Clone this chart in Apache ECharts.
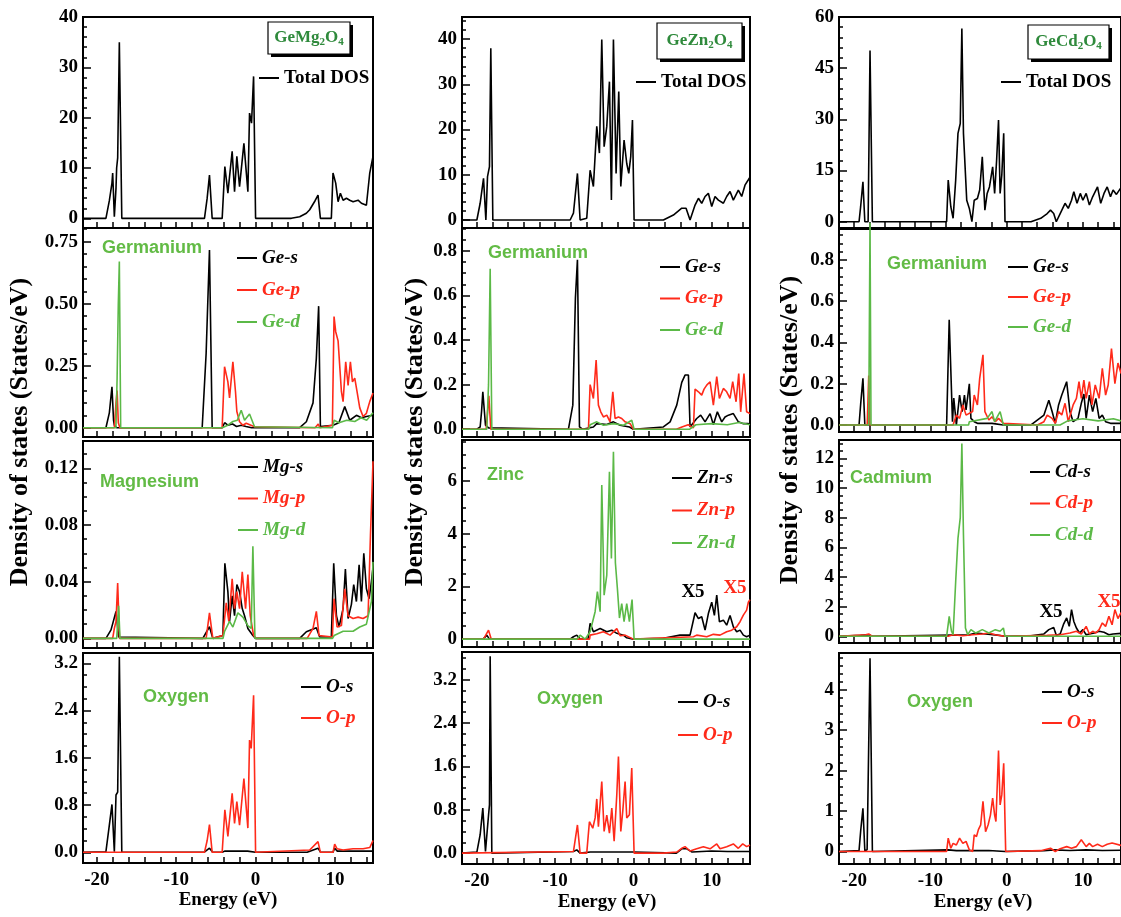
<!DOCTYPE html>
<html><head><meta charset="utf-8">
<script src="https://cdn.jsdelivr.net/npm/echarts@6/dist/echarts.min.js"></script>
<style>html,body{margin:0;padding:0;background:#fff}#c{width:1121px;height:917px}</style>
</head><body><div id="c"></div><script>
// ---------- tick values ----------
const energyTicks = [-20, -10, 0, 10];
const energyMinorTicks = [-20,-18,-16,-14,-12,-10,-8,-6,-4,-2,0,2,4,6,8,10,12,14];
const yTicksTotalMg = [0, 10, 20, 30, 40];
const yTicksGeMg = [0, 0.25, 0.5, 0.75];
const yTicksMg = [0, 0.04, 0.08, 0.12];
const yTicksOMg = [0, 0.8, 1.6, 2.4, 3.2];
const yTicksTotalZn = [0, 10, 20, 30, 40];
const yTicksGeZn = [0, 0.2, 0.4, 0.6, 0.8];
const yTicksZn = [0, 2, 4, 6];
const yTicksOZn = [0, 0.8, 1.6, 2.4, 3.2];
const yTicksTotalCd = [0, 15, 30, 45, 60];
const yTicksGeCd = [0, 0.2, 0.4, 0.6, 0.8];
const yTicksCd = [0, 2, 4, 6, 8, 10, 12];
const yTicksOCd = [0, 1, 2, 3, 4];

// ---------- GeMg2O4 data [energy eV, DOS] ----------
const mgTotal = [[-21.75,0],[-18.86,0],[-18.43,3.5],[-18.1,7],[-18.01,9],[-17.8,0.3],[-17.59,6],[-17.51,10],[-17.38,12],[-17.17,35],[-16.86,0],[-6.44,0],[-6.1,4],[-5.81,8.6],[-5.47,0],[-4.21,0],[-3.87,10.3],[-3.49,5],[-3.3,8],[-2.95,13.3],[-2.65,5.3],[-2.36,12.3],[-2.02,6.3],[-1.47,14.9],[-0.97,5.3],[-0.76,20.9],[-0.51,18.9],[-0.25,28.2],[0,0],[4.5,0],[5.56,0.3],[6.4,1],[6.82,1.7],[7.5,3.5],[7.87,4.6],[8.17,0],[9.55,0],[9.76,9],[10.1,7],[10.4,3.3],[10.69,5],[11.03,3.6],[11.45,4],[11.87,3.6],[12.29,3.3],[12.92,3.6],[13.34,3],[13.97,2.6],[14.39,9],[14.8,12.3]];
const mgGeS = [[-21.75,0],[-18.86,0],[-18.43,0.06],[-18.1,0.165],[-17.9,0.03],[-17.8,0.01],[-17.5,0],[-6.73,0],[-6.23,0.3],[-5.81,0.716],[-5.47,0],[-4.2,0],[-3.9,0.02],[-3.5,0.01],[-2.9,0.015],[-2.4,0.005],[-1.8,0.01],[-1.2,0.005],[-0.5,0],[5.56,0],[6.4,0.024],[7.24,0.1],[7.66,0.28],[7.95,0.49],[8.17,0.005],[9.76,0.01],[10.5,0.02],[11.24,0.085],[11.87,0.03],[12.71,0.05],[13.34,0.04],[13.97,0.045],[14.8,0.05]];
const mgGeP = [[-21.75,0],[-17.8,0],[-17.59,0.1],[-17.45,0.15],[-17.3,0.02],[-17.1,0],[-4.21,0],[-3.91,0.246],[-3.49,0.185],[-3.28,0.12],[-2.86,0.266],[-2.53,0.145],[-2.36,0.065],[-2.02,0.024],[-1.6,0.01],[-1.18,0.018],[-0.13,0.004],[0,0],[7.5,0],[7.9,0.015],[8.1,0],[9.68,0.01],[9.89,0.448],[10.1,0.387],[10.4,0.35],[10.82,0.145],[11.03,0.105],[11.36,0.266],[11.66,0.17],[11.95,0.266],[12.21,0.185],[12.5,0.2],[12.79,0.145],[13.13,0.08],[13.55,0.045],[13.97,0.058],[14.39,0.105],[14.8,0.14]];
const mgGeD = [[-21.75,0],[-17.6,0],[-17.45,0.2],[-17.3,0.5],[-17.17,0.67],[-17.0,0],[-4.2,0],[-3.5,0.01],[-2.86,0.025],[-2.3,0.03],[-1.81,0.07],[-1.39,0.03],[-0.76,0.055],[-0.55,0.058],[-0.13,0.004],[0,0],[9.7,0],[9.9,0.03],[10.5,0.02],[11.5,0.03],[12.5,0.025],[13.3,0.04],[14,0.03],[14.8,0.06]];
const mgS = [[-21.75,0],[-18.86,0],[-18.22,0.006],[-17.59,0.019],[-17.26,0.001],[-17.1,0],[-6.65,0],[-5.81,0.0082],[-5.39,0],[-4.12,0.002],[-3.87,0.053],[-3.49,0.033],[-3.28,0.012],[-2.95,0.03],[-2.65,0.016],[-2.36,0.038],[-2.02,0.033],[-1.68,0.021],[-1.39,0.016],[-0.97,0.007],[-0.34,0.002],[0,0],[5.56,0],[6.4,0.0047],[7.66,0.0075],[8.08,0.001],[9.55,0.001],[9.85,0.053],[10.19,0.016],[10.52,0.008],[11.03,0.021],[11.32,0.049],[11.66,0.014],[12.08,0.024],[12.37,0.038],[12.71,0.026],[13.05,0.052],[13.34,0.026],[13.64,0.06],[13.97,0.035],[14.31,0.028],[14.6,0.04],[14.8,0.05]];
const mgP = [[-21.75,0],[-18.01,0],[-17.8,0.007],[-17.59,0.012],[-17.38,0.039],[-17.15,0],[-6.23,0],[-5.81,0.018],[-5.39,0],[-4.12,0.002],[-3.7,0.025],[-3.37,0.012],[-2.95,0.042],[-2.65,0.021],[-2.36,0.033],[-2.02,0.021],[-1.68,0.047],[-1.26,0.021],[-0.97,0.045],[-0.67,0.016],[-0.25,0.002],[0.08,0],[6.5,0],[7.24,0.007],[7.66,0.019],[8.0,0.002],[9.68,0.001],[9.89,0.028],[10.27,0.008],[10.82,0.009],[11.24,0.035],[11.66,0.016],[12.29,0.014],[12.92,0.015],[13.55,0.014],[14.18,0.016],[14.48,0.073],[14.8,0.125]];
const mgD = [[-21.75,0],[-17.5,0],[-17.26,0.023],[-17.09,0],[-4.1,0],[-3.91,0.005],[-3.28,0.012],[-2.86,0.008],[-2.23,0.018],[-1.6,0.015],[-0.97,0.009],[-0.55,0.007],[-0.34,0.065],[-0.08,0],[9.7,0],[9.9,0.002],[11.03,0.005],[12.29,0.005],[13.13,0.008],[13.97,0.01],[14.6,0.026],[14.8,0.054]];
const mgOS = [[-21.75,0],[-18.86,0.01],[-18.43,0.46],[-18.1,0.81],[-17.8,0.01],[-17.59,0.97],[-17.38,1.02],[-17.17,3.31],[-16.86,0],[-6.5,0],[-5.81,0.07],[-5.4,0],[-4.2,0],[-3.9,0.02],[-1,0.02],[0,0],[6.5,0],[7.87,0.07],[8.2,0],[9.76,0],[9.97,0.07],[10.3,0.02],[14.8,0.02]];
const mgOP = [[-21.75,0],[-6.44,0],[-6.1,0.2],[-5.81,0.47],[-5.47,0],[-4.21,0],[-3.87,0.72],[-3.49,0.27],[-2.95,1.0],[-2.65,0.49],[-2.36,0.86],[-2.02,0.46],[-1.47,1.25],[-0.97,0.41],[-0.76,1.9],[-0.55,1.76],[-0.25,2.66],[0,0],[6.82,0.04],[7.87,0.18],[8.17,0],[9.76,0],[9.97,0.14],[10.27,0.06],[11.03,0.04],[12.29,0.06],[13.55,0.06],[14.39,0.08],[14.8,0.2]];

// ---------- GeZn2O4 data ----------
const znTotal = [[-21.9,0],[-20.0,0],[-19.58,3.7],[-19.15,9.2],[-18.85,0],[-18.64,9.6],[-18.39,11.8],[-18.22,38],[-17.96,0],[-8.08,0],[-7.66,1.5],[-7.15,10.3],[-6.81,0],[-5.96,0.4],[-5.53,11],[-5.11,7.4],[-4.68,20.7],[-4.34,14.8],[-4.04,39.9],[-3.74,16.2],[-3.4,20.7],[-3.06,30.6],[-2.81,4.4],[-2.55,39.9],[-2.21,10.3],[-1.87,28.4],[-1.61,7.4],[-1.19,17.7],[-0.85,12.5],[-0.59,10.3],[-0.34,14],[-0.12,22.1],[0.09,0],[3.83,0],[5.11,1.1],[6.18,2.6],[6.73,2.6],[7.24,0],[7.88,3.3],[8.31,4.8],[8.73,3.7],[9.16,5.2],[9.58,5.9],[10.01,3],[10.43,5.2],[10.86,4.4],[11.5,3.7],[11.92,5.2],[12.35,6.3],[12.77,4.4],[13.41,6.6],[13.84,5.2],[14.26,7.7],[14.69,8.9],[14.9,9.5]];
const znGeS = [[-21.9,0],[-20.0,0],[-19.58,0.01],[-19.4,0.08],[-19.24,0.168],[-18.9,0.018],[-18.51,0.006],[-18.3,0],[-8.3,0],[-7.74,0.108],[-7.41,0.587],[-7.15,0.76],[-6.89,0.01],[-6.5,0],[-5.11,0.01],[-4.68,0.025],[-3.4,0.021],[-2.55,0.033],[-1.7,0.018],[-0.5,0.01],[0,0],[3.83,0.01],[4.69,0.033],[5.54,0.108],[6.18,0.21],[6.6,0.243],[7.03,0.243],[7.24,0.01],[8.09,0.048],[8.6,0.063],[9.16,0.033],[9.8,0.07],[10.22,0.02],[10.73,0.078],[11.29,0.033],[11.71,0.055],[12.14,0.063],[12.77,0.07],[13.41,0.033],[14.05,0.025],[14.69,0.025],[14.9,0.02]];
const znGeP = [[-21.9,0],[-18.81,0],[-18.47,0.15],[-18.22,0],[-5.74,0],[-5.53,0.2],[-5.11,0.138],[-4.76,0.31],[-4.47,0.108],[-4.17,0.078],[-3.83,0.055],[-3.4,0.063],[-2.98,0.033],[-2.63,0.168],[-2.34,0.048],[-1.91,0.055],[-1.49,0.048],[-1.06,0.033],[-0.42,0.025],[0,0],[5.5,0],[6.2,0.01],[7.0,0.02],[7.67,0.006],[7.88,0.18],[8.31,0.168],[8.73,0.153],[9.03,0.18],[9.37,0.198],[9.8,0.213],[10.22,0.108],[10.65,0.236],[10.99,0.138],[11.5,0.183],[11.92,0.168],[12.35,0.138],[12.69,0.213],[13.12,0.123],[13.46,0.25],[13.71,0.078],[14.13,0.25],[14.47,0.078],[14.9,0.07]];
const znGeD = [[-21.9,0],[-18.73,0],[-18.51,0.2],[-18.3,0.72],[-18.09,0],[-5.7,0],[-5.53,0.02],[-4.68,0.033],[-3.83,0.018],[-2.55,0.025],[-1.27,0.018],[-0.21,0.04],[0.09,0],[7.2,0],[8,0.02],[10,0.025],[12,0.02],[13.5,0.03],[14.9,0.02]];
const znS = [[-21.9,0],[-19.2,0],[-18.73,0.15],[-18.4,0],[-8.08,0],[-7.66,0.09],[-7.23,0.15],[-6.8,0],[-5.8,0],[-5.53,0.6],[-5.11,0.28],[-4.25,0.4],[-3.4,0.28],[-2.76,0.34],[-2.12,0.22],[-1.27,0.15],[-0.85,0.05],[0,0],[3.83,0.03],[5.96,0.15],[7.24,0.15],[7.88,1.0],[8.31,0.78],[8.73,0.85],[9.16,0.34],[9.58,0.97],[10.01,1.4],[10.35,0.9],[10.65,1.67],[10.99,0.66],[11.5,0.72],[11.92,0.53],[12.35,0.9],[12.77,0.47],[13.2,0.28],[13.63,0.34],[14.05,0.15],[14.47,0.09],[14.9,0.15]];
const znP = [[-21.9,0],[-19.15,0],[-18.51,0.34],[-18.17,0],[-5.6,0],[-5.53,0.15],[-4.68,0.2],[-3.83,0.28],[-2.98,0.15],[-2.12,0.4],[-1.7,0.13],[-1.06,0.15],[0,0],[7.67,0.09],[8.09,0.15],[9.37,0.09],[10.22,0.18],[11.07,0.15],[11.92,0.28],[12.56,0.34],[13.2,0.47],[13.63,0.66],[14.05,0.91],[14.47,1.1],[14.69,1.4],[14.9,1.5]];
const znD = [[-21.9,0],[-7.23,0],[-6.81,0.15],[-6.17,0],[-5.53,0.28],[-4.89,1.04],[-4.6,1.8],[-4.25,1.04],[-4.04,5.85],[-3.74,1.67],[-3.4,2.43],[-3.06,6.35],[-2.81,3.06],[-2.55,7.11],[-2.3,2.9],[-2.04,1.9],[-1.78,0.8],[-1.49,1.35],[-1.19,0.66],[-0.85,1.35],[-0.51,0.66],[-0.17,1.5],[0.09,0],[14.9,0]];
const znOS = [[-21.9,0],[-20.0,0.02],[-19.58,0.34],[-19.24,0.83],[-18.9,0.03],[-18.51,0.7],[-18.39,0.89],[-18.3,3.63],[-18.09,0],[-7.66,0.03],[-7.23,0.06],[-6.81,0],[-5.5,0.02],[-0.1,0.02],[0,0],[5.5,0],[6.18,0.08],[6.82,0.08],[7.5,0.02],[10,0.04],[12,0.03],[14.9,0.03]];
const znOP = [[-21.9,0],[-7.66,0.03],[-7.15,0.52],[-6.81,0],[-5.96,0],[-5.62,0.58],[-5.19,0.46],[-4.89,0.65],[-4.68,1.0],[-4.47,0.49],[-4.04,1.32],[-3.74,0.4],[-3.4,0.7],[-3.06,0.37],[-2.76,0.83],[-2.46,0.22],[-2.12,1.08],[-1.91,1.78],[-1.61,0.4],[-1.36,0.77],[-1.06,1.32],[-0.85,0.65],[-0.51,0.71],[-0.21,1.57],[0.09,0],[3.8,0],[5.54,0.02],[6.18,0.09],[6.6,0.12],[7.24,0.04],[8.09,0.08],[8.94,0.12],[9.8,0.08],[10.65,0.17],[11.07,0.08],[11.92,0.12],[12.77,0.17],[13.41,0.09],[13.97,0.17],[14.47,0.12],[14.9,0.15]];

// ---------- GeCd2O4 data ----------
const cdTotal = [[-22,0],[-19.37,0],[-19.16,4.4],[-18.86,11.7],[-18.61,0],[-18.18,0],[-17.93,50.2],[-17.62,0],[-7.88,0],[-7.67,12.2],[-7.33,4.4],[-7.03,1],[-6.69,12.2],[-6.39,25.9],[-6.09,28.8],[-5.88,56.6],[-5.67,25.9],[-5.24,6.3],[-4.9,3.9],[-4.56,0],[-4.26,6.3],[-3.84,6.8],[-3.54,9.3],[-3.2,19],[-2.86,3.4],[-2.56,8.3],[-2.26,10.2],[-1.84,16.1],[-1.58,8.3],[-1.32,18],[-1.07,29.8],[-0.86,8.3],[-0.64,13.7],[-0.39,25.9],[-0.22,0],[3.19,0],[4.47,1],[5.32,2.4],[5.75,3.4],[6.17,2.4],[6.51,0],[7.02,2.4],[7.66,5.4],[8.08,3.9],[8.51,6.3],[8.81,8.8],[9.23,5.4],[9.66,8.3],[10.0,6.3],[10.43,8.3],[10.85,4.9],[11.28,7.3],[11.92,10.2],[12.34,5.4],[12.77,8.3],[13.19,10.2],[13.62,7.3],[13.96,9.3],[14.4,8],[15,10]];
const cdGeS = [[-22,0],[-19.37,0],[-19.16,0.1],[-18.86,0.226],[-18.61,0],[-7.88,0],[-7.54,0.51],[-7.11,0.016],[-6.94,0.13],[-6.6,0],[-6.18,0.145],[-5.84,0.065],[-5.54,0.145],[-5.33,0.073],[-4.9,0.2],[-4.69,0.032],[-4.26,0.016],[-3.84,0.008],[-2.77,0.008],[-1.92,0.008],[-0.43,0],[3.19,0],[4.89,0.048],[5.53,0.12],[5.96,0.065],[6.38,0.008],[6.81,0.097],[7.23,0.145],[7.87,0.21],[8.3,0.065],[8.72,0.016],[9.36,0.032],[9.79,0.105],[10.13,0.15],[10.43,0.032],[10.85,0.145],[11.28,0.065],[11.7,0.129],[12.13,0.032],[12.55,0.048],[12.98,0.016],[13.62,0.008],[15,0.008]];
const cdGeP = [[-22,0],[-18.3,0],[-18.1,0.24],[-17.95,0],[-7.03,0],[-6.6,0.048],[-6.18,0.032],[-5.75,0.097],[-5.33,0.048],[-4.47,0.065],[-4.26,0.145],[-3.84,0.097],[-3.54,0.226],[-3.11,0.34],[-2.86,0.065],[-2.34,0.024],[-1.92,0.04],[-1.49,0.016],[-1.07,0.032],[-0.43,0.008],[-0.22,0],[4.04,0],[4.89,0.016],[5.32,0.048],[5.96,0.032],[6.38,0.008],[6.81,0.065],[7.23,0.048],[7.66,0.105],[8.08,0.016],[8.72,0.097],[9.15,0.129],[9.49,0.21],[9.79,0.129],[10.13,0.218],[10.43,0.129],[10.85,0.21],[11.19,0.097],[11.62,0.194],[12.13,0.129],[12.55,0.275],[12.98,0.145],[13.32,0.194],[13.75,0.37],[14.2,0.2],[14.6,0.3],[15,0.25]];
const cdGeD = [[-22,0],[-18.1,0],[-17.93,0.98],[-17.8,0],[-5,0],[-4.9,0.016],[-2.56,0.032],[-1.92,0.065],[-1.58,0.016],[-0.86,0.065],[-0.43,0],[7,0],[8,0.02],[10,0.03],[12,0.02],[14,0.03],[15,0.02]];
const cdS = [[-22,0],[-19.16,0.07],[-18.1,0.1],[-17.62,0],[-4.9,0.1],[-4.05,0.22],[-2.77,0.16],[-1.49,0.1],[-0.22,0],[3.19,0.04],[4.89,0.16],[5.53,0.45],[6.17,0.6],[6.51,0.07],[7.02,0.16],[7.45,0.8],[7.87,1.24],[8.21,0.67],[8.51,1.8],[8.81,1.0],[9.15,0.56],[9.57,0.22],[10.0,0.45],[10.43,0.11],[10.85,0.16],[11.49,0.22],[12.13,0.34],[12.77,0.27],[13.41,0.11],[13.96,0.16],[15,0.2]];
const cdP = [[-22,0],[-18.5,0.11],[-18.1,0.16],[-17.62,0],[-7.67,0],[-7.03,0.11],[-5.75,0.04],[-4.47,0.11],[-3.2,0.16],[-2.34,0.22],[-1.49,0.11],[-0.22,0],[5.32,0.07],[7.02,0.11],[8.3,0.22],[9.15,0.34],[9.79,0.16],[10.43,0.67],[10.85,0.16],[11.28,0.34],[11.7,0.22],[12.13,0.45],[12.55,0.9],[12.98,0.67],[13.41,1.35],[13.83,0.78],[14.2,1.8],[14.6,1.2],[15,1.6]];
const cdD = [[-22,0],[-7.88,0],[-7.54,1.35],[-7.24,0.34],[-7.03,0.11],[-6.69,3.7],[-6.39,6.6],[-6.09,8.0],[-5.88,13.0],[-5.67,6.85],[-5.41,0.56],[-5.11,0.11],[-4.69,0.45],[-4.05,0.22],[-3.2,0.45],[-2.34,0.22],[-1.49,0.45],[-0.86,0.34],[-0.43,0.56],[-0.22,0],[15,0]];
const cdOS = [[-22,0],[-19.37,0.02],[-19.16,0.5],[-18.86,1.07],[-18.61,0.02],[-18.31,0.04],[-17.93,4.78],[-17.62,0],[-7.67,0.04],[-6.6,0.02],[-4.47,0.02],[-2.34,0.025],[-0.22,0],[4.89,0.02],[6.17,0.04],[8.3,0.025],[10.43,0.04],[12.55,0.025],[15,0.03]];
const cdOP = [[-22,0],[-7.88,0],[-7.67,0.33],[-7.33,0.08],[-7.03,0.2],[-6.6,0.16],[-6.18,0.33],[-5.75,0.2],[-5.33,0.25],[-4.9,0.04],[-4.47,0],[-4.26,0.41],[-3.96,0.37],[-3.71,0.54],[-3.41,0.66],[-3.11,1.24],[-2.77,0.49],[-2.43,0.66],[-2.13,0.9],[-1.84,1.32],[-1.58,0.9],[-1.41,0.74],[-1.07,2.5],[-0.86,1.15],[-0.64,1.4],[-0.39,2.18],[-0.13,0],[4.47,0.02],[5.75,0.08],[6.38,0],[7.02,0.07],[7.87,0.12],[8.51,0.08],[9.15,0.12],[9.79,0.29],[10.43,0.12],[10.85,0.2],[11.28,0.12],[11.92,0.18],[12.55,0.12],[13.19,0.18],[13.83,0.21],[15,0.15]];

// ---------- styling / layout ----------
const SERIF = "'Liberation Serif','Times New Roman',serif";
const BLACK = '#000000', RED = '#ff2a1a', GREEN = '#5bb947', LABELGREEN = '#62bb45', BOXGREEN = '#2f8a3c';
function rng(a, b, s) { const o = []; for (let v = a; v <= b + 1e-9; v += s) o.push(+v.toFixed(4)); return o; }

const C1 = {l: 83, w: 290, xmin: -21.75, xmax: 14.8};
const C2 = {l: 462, w: 288, xmin: -21.9, xmax: 14.9};
const C3 = {l: 839, w: 290, xmin: -22, xmax: 15};

const panels = [
  // column 1 : GeMg2O4
  {c: C1, t: 17, h: 211, ymin: -1.92, ymax: 40, major: yTicksTotalMg, minor: rng(0, 40, 2), dec: 0, xlab: false,
   series: [['Total DOS', mgTotal, BLACK]], leg: {x: 259, y: 78, pitch: 32, italic: false}},
  {c: C1, t: 228, h: 209, ymin: -0.0375, ymax: 0.805, major: yTicksGeMg, minor: rng(0, 0.8, 0.05), dec: 2, xlab: false,
   series: [['Ge-s', mgGeS, BLACK], ['Ge-p', mgGeP, RED], ['Ge-d', mgGeD, GREEN]], leg: {x: 237, y: 258, pitch: 32, italic: true}},
  {c: C1, t: 441, h: 207, ymin: -0.0068, ymax: 0.1393, major: yTicksMg, minor: rng(0, 0.13, 0.01), dec: 2, xlab: false,
   series: [['Mg-s', mgS, BLACK], ['Mg-p', mgP, RED], ['Mg-d', mgD, GREEN]], leg: {x: 238, y: 467, pitch: 31.5, italic: true}},
  {c: C1, t: 653, h: 210, ymin: -0.181, ymax: 3.374, major: yTicksOMg, minor: rng(0, 3.2, 0.2), dec: 1, xlab: true,
   series: [['O-s', mgOS, BLACK], ['O-p', mgOP, RED]], leg: {x: 301, y: 687, pitch: 31, italic: true}},
  // column 2 : GeZn2O4
  {c: C2, t: 17, h: 211, ymin: -1.77, ymax: 44.9, major: yTicksTotalZn, minor: rng(0, 44, 2), dec: 0, xlab: false,
   series: [['Total DOS', znTotal, BLACK]], leg: {x: 636, y: 82, pitch: 32, italic: false}},
  {c: C2, t: 228, h: 209, ymin: -0.035, ymax: 0.903, major: yTicksGeZn, minor: rng(0, 0.9, 0.05), dec: 1, xlab: false,
   series: [['Ge-s', znGeS, BLACK], ['Ge-p', znGeP, RED], ['Ge-d', znGeD, GREEN]], leg: {x: 660, y: 267, pitch: 31.5, italic: true}},
  {c: C2, t: 440, h: 207, ymin: -0.3, ymax: 7.56, major: yTicksZn, minor: rng(0, 7.5, 0.5), dec: 0, xlab: false,
   series: [['Zn-s', znS, BLACK], ['Zn-p', znP, RED], ['Zn-d', znD, GREEN]], leg: {x: 672, y: 478, pitch: 32.5, italic: true}},
  {c: C2, t: 652, h: 212, ymin: -0.2, ymax: 3.71, major: yTicksOZn, minor: rng(0, 3.6, 0.2), dec: 1, xlab: true,
   series: [['O-s', znOS, BLACK], ['O-p', znOP, RED]], leg: {x: 678, y: 702, pitch: 33, italic: true}},
  // column 3 : GeCd2O4
  {c: C3, t: 17, h: 211, ymin: -1.84, ymax: 60, major: yTicksTotalCd, minor: rng(0, 60, 3), dec: 0, xlab: false,
   series: [['Total DOS', cdTotal, BLACK]], leg: {x: 1001, y: 82, pitch: 32, italic: false}},
  {c: C3, t: 229, h: 203, ymin: -0.034, ymax: 0.95, major: yTicksGeCd, minor: rng(0, 0.92, 0.04), dec: 1, xlab: false,
   series: [['Ge-s', cdGeS, BLACK], ['Ge-p', cdGeP, RED], ['Ge-d', cdGeD, GREEN, false]], leg: {x: 1008, y: 267, pitch: 30, italic: true}},
  {c: C3, t: 440, h: 203, ymin: -0.45, ymax: 13.23, major: yTicksCd, minor: rng(0, 13, 0.5), dec: 0, xlab: false,
   series: [['Cd-s', cdS, BLACK], ['Cd-p', cdP, RED], ['Cd-d', cdD, GREEN]], leg: {x: 1030, y: 472, pitch: 31.5, italic: true}},
  {c: C3, t: 653, h: 211, ymin: -0.31, ymax: 4.91, major: yTicksOCd, minor: rng(0, 4.8, 0.2), dec: 0, xlab: true,
   series: [['O-s', cdOS, BLACK], ['O-p', cdOP, RED]], leg: {x: 1042, y: 692, pitch: 31, italic: true}}
];

const grids = [], xAxes = [], yAxes = [], series = [], legends = [];
const tickLine = () => ({color: '#000', width: 1.5});
const edgeLine = () => ({show: true, onZero: false, lineStyle: {color: '#000', width: 2}});
panels.forEach((p, g) => {
  grids.push({left: p.c.l, top: p.t, width: p.c.w, height: p.h, show: true, borderColor: '#000', borderWidth: 2, backgroundColor: 'transparent'});
  xAxes.push({gridIndex: g, type: 'value', min: p.c.xmin, max: p.c.xmax, position: 'bottom',
    axisLine: edgeLine(), splitLine: {show: false},
    axisTick: {show: true, inside: true, length: 6, customValues: energyMinorTicks, lineStyle: tickLine()},
    axisLabel: {show: p.xlab, customValues: energyTicks, margin: 8, color: '#000', fontFamily: SERIF, fontWeight: 'bold', fontSize: 19, formatter: v => String(v)}});
  yAxes.push({gridIndex: g, type: 'value', min: p.ymin, max: p.ymax, position: 'left',
    axisLine: edgeLine(), splitLine: {show: false},
    axisTick: {show: true, inside: true, length: 8, customValues: p.major, lineStyle: tickLine()},
    axisLabel: {customValues: p.major, margin: 5, color: '#000', fontFamily: SERIF, fontWeight: 'bold', fontSize: 19, formatter: v => v.toFixed(p.dec)}});
  yAxes.push({gridIndex: g, type: 'value', min: p.ymin, max: p.ymax, position: 'left',
    axisLine: edgeLine(), splitLine: {show: false},
    axisTick: {show: true, inside: true, length: 4, customValues: p.minor, lineStyle: tickLine()},
    axisLabel: {show: false}});
  p.series.forEach(s => {
    series.push({type: 'line', name: s[0], xAxisIndex: g, yAxisIndex: 2 * g, data: s[1], symbol: 'none', showSymbol: false,
      silent: true, clip: s[3] !== false, lineStyle: {color: s[2], width: 1.6}, itemStyle: {color: s[2]}});
  });
  const L = p.leg;
  legends.push({left: L.x, top: L.y - 10, orient: 'vertical', padding: 0, itemGap: L.pitch - 20, itemWidth: 20, itemHeight: 2,
    icon: 'rect', selectedMode: false,
    textStyle: {fontFamily: SERIF, fontWeight: 'bold', fontStyle: L.italic ? 'italic' : 'normal', fontSize: 19, lineHeight: 20},
    data: p.series.map(s => ({name: s[0], itemStyle: {color: s[2]}, textStyle: {color: s[2]}}))});
});

// ---------- annotations ----------
const graphics = [];
function txt(x, y, text, font, fill, align, rot) {
  graphics.push({type: 'text', x: x, y: y, rotation: rot || 0, silent: true, z: 100,
    style: {text: text, font: font, fill: fill, align: align || 'left', verticalAlign: 'middle'}});
}
function box(x, y, w, h, metal) {
  graphics.push({type: 'group', x: x, y: y, silent: true, z: 100, children: [
    {type: 'rect', shape: {x: 3, y: 3, width: w, height: h}, style: {fill: '#000'}},
    {type: 'rect', shape: {x: 0, y: 0, width: w, height: h}, style: {fill: '#fff', stroke: '#000', lineWidth: 1.2}},
    {type: 'text', x: w / 2, y: h / 2, style: {text: '{a|Ge' + metal + '}{b|2}{a|O}{b|4}', align: 'center', verticalAlign: 'middle',
      rich: {a: {font: "bold 17px 'Liberation Serif'", fill: BOXGREEN}, b: {font: "bold 11px 'Liberation Serif'", fill: BOXGREEN, padding: [8, 0, 0, 0]}}}}
  ]});
}
box(268, 22, 82, 32, 'Mg');
box(657, 23, 85, 36, 'Zn');
box(1028, 25, 81, 34, 'Cd');

const EL = "bold 18px 'Liberation Sans'";
txt(102, 248, 'Germanium', EL, LABELGREEN);
txt(100, 482, 'Magnesium', EL, LABELGREEN);
txt(143, 697, 'Oxygen', EL, LABELGREEN);
txt(488, 253, 'Germanium', EL, LABELGREEN);
txt(487, 475, 'Zinc', EL, LABELGREEN);
txt(537, 699, 'Oxygen', EL, LABELGREEN);
txt(887, 264, 'Germanium', EL, LABELGREEN);
txt(850, 478, 'Cadmium', EL, LABELGREEN);
txt(907, 702, 'Oxygen', EL, LABELGREEN);

const X5F = "bold 19px 'Liberation Serif'";
txt(693, 592, 'X5', X5F, BLACK, 'center');
txt(735, 588, 'X5', X5F, RED, 'center');
txt(1051, 612, 'X5', X5F, BLACK, 'center');
txt(1109, 602, 'X5', X5F, RED, 'center');

const TF = "bold 19px 'Liberation Serif'";
txt(228, 900, 'Energy (eV)', TF, '#000', 'center');
txt(607, 902, 'Energy (eV)', TF, '#000', 'center');
txt(983, 902, 'Energy (eV)', TF, '#000', 'center');
const YF = "bold 26px 'Liberation Serif'";
txt(20, 432, 'Density of states (States/eV)', YF, '#000', 'center', Math.PI / 2);
txt(415, 432, 'Density of states (States/eV)', YF, '#000', 'center', Math.PI / 2);
txt(790, 430, 'Density of states (States/eV)', YF, '#000', 'center', Math.PI / 2);

const chart = echarts.init(document.getElementById('c'), null, {renderer: 'canvas'});
chart.setOption({
  animation: false,
  backgroundColor: '#ffffff',
  grid: grids, xAxis: xAxes, yAxis: yAxes, series: series, legend: legends, graphic: graphics
});
</script></body></html>
